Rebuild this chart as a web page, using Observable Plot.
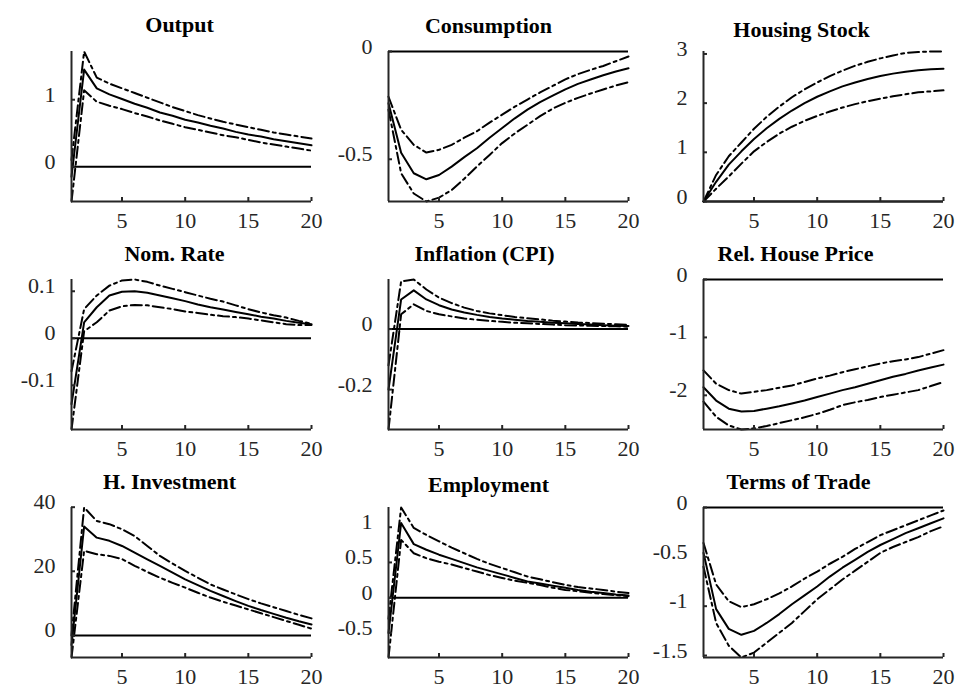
<!DOCTYPE html>
<html><head><meta charset="utf-8">
<script src="https://cdn.jsdelivr.net/npm/d3@7"></script>
<script src="https://cdn.jsdelivr.net/npm/@observablehq/plot@0.6"></script>
<style>
body{margin:0;background:#fff}
#wrap{position:relative;width:955px;height:689px;overflow:hidden;font-family:"Liberation Serif",serif}
#wrap svg{position:absolute}
</style>
</head><body><div id="wrap"></div>
<script>
const periods = [1,2,3,4,5,6,7,8,9,10,11,12,13,14,15,16,17,18,19,20];
const xTicks = [5,10,15,20];

const titles = ["Output","Consumption","Housing Stock","Nom. Rate","Inflation (CPI)","Rel. House Price","H. Investment","Employment","Terms of Trade"];

const outputMed = [-0.15,1.45,1.17,1.08,1.01,0.94,0.88,0.81,0.76,0.70,0.66,0.61,0.57,0.52,0.48,0.45,0.41,0.38,0.35,0.32];
const outputUp  = [0.10,1.72,1.33,1.24,1.17,1.10,1.03,0.96,0.89,0.83,0.77,0.72,0.67,0.63,0.59,0.55,0.51,0.48,0.45,0.42];
const outputLo  = [-0.52,1.14,0.97,0.91,0.86,0.80,0.75,0.69,0.64,0.59,0.55,0.51,0.47,0.44,0.40,0.36,0.33,0.30,0.27,0.24];

const consMed = [-0.24,-0.47,-0.565,-0.593,-0.573,-0.534,-0.49,-0.449,-0.40,-0.355,-0.31,-0.27,-0.235,-0.205,-0.176,-0.15,-0.13,-0.11,-0.093,-0.078];
const consUp  = [-0.21,-0.363,-0.433,-0.469,-0.456,-0.433,-0.40,-0.37,-0.33,-0.293,-0.256,-0.223,-0.19,-0.16,-0.129,-0.105,-0.085,-0.067,-0.045,-0.023];
const consLo  = [-0.27,-0.565,-0.659,-0.696,-0.678,-0.643,-0.59,-0.534,-0.48,-0.425,-0.38,-0.34,-0.30,-0.265,-0.238,-0.215,-0.195,-0.176,-0.158,-0.142];

const housMed = [0,0.40,0.75,1.02,1.27,1.49,1.68,1.85,2.00,2.13,2.24,2.34,2.42,2.49,2.55,2.60,2.64,2.67,2.69,2.70];
const housUp  = [0,0.54,0.92,1.20,1.48,1.72,1.93,2.12,2.28,2.42,2.55,2.66,2.76,2.84,2.91,2.97,3.02,3.04,3.05,3.05];
const housLo  = [0,0.26,0.51,0.77,1.02,1.21,1.38,1.52,1.64,1.74,1.83,1.91,1.98,2.04,2.09,2.14,2.18,2.22,2.24,2.26];

const rateMed = [-0.14,0.034,0.066,0.091,0.099,0.10,0.097,0.091,0.085,0.079,0.072,0.066,0.061,0.056,0.051,0.046,0.042,0.037,0.033,0.03];
const rateUp  = [-0.07,0.062,0.091,0.112,0.123,0.125,0.12,0.112,0.105,0.098,0.091,0.084,0.078,0.07,0.062,0.055,0.049,0.044,0.037,0.031];
const rateLo  = [-0.194,0.015,0.034,0.059,0.068,0.071,0.07,0.066,0.062,0.057,0.054,0.05,0.047,0.045,0.042,0.038,0.034,0.03,0.028,0.028];

const inflMed = [-0.2,0.098,0.128,0.098,0.079,0.065,0.055,0.047,0.04,0.035,0.031,0.027,0.024,0.021,0.019,0.017,0.015,0.013,0.011,0.01];
const inflUp  = [-0.12,0.158,0.164,0.131,0.104,0.086,0.071,0.06,0.052,0.046,0.04,0.036,0.032,0.028,0.025,0.022,0.02,0.018,0.016,0.014];
const inflLo  = [-0.332,0.049,0.082,0.06,0.049,0.042,0.035,0.031,0.027,0.024,0.021,0.019,0.017,0.015,0.013,0.012,0.011,0.01,0.009,0.008];

const priceMed = [-1.86,-2.09,-2.23,-2.28,-2.27,-2.23,-2.19,-2.14,-2.09,-2.03,-1.97,-1.91,-1.86,-1.80,-1.74,-1.68,-1.63,-1.57,-1.52,-1.47];
const priceUp  = [-1.57,-1.80,-1.91,-1.97,-1.94,-1.91,-1.87,-1.83,-1.77,-1.71,-1.66,-1.60,-1.55,-1.50,-1.45,-1.41,-1.38,-1.34,-1.28,-1.22];
const priceLo  = [-2.11,-2.37,-2.52,-2.59,-2.57,-2.53,-2.48,-2.43,-2.38,-2.32,-2.25,-2.17,-2.12,-2.08,-2.03,-1.99,-1.95,-1.91,-1.84,-1.77];

const invMed = [-3,34,30.5,29.5,27.9,25.8,23.7,21.7,19.6,17.5,15.7,13.9,12.3,10.7,9.2,7.9,6.7,5.5,4.4,3.4];
const invUp  = [0,39.9,35.7,34.7,33.1,31,27.9,24.8,22.4,20.1,18,15.9,14.3,12.8,11.3,10,8.8,7.6,6.4,5.3];
const invLo  = [-6.9,26.4,25.3,24.8,23.8,21.7,19.8,18,16.4,14.9,13.3,11.8,10.5,9.3,8.1,6.9,5.7,4.5,3.3,2.1];

const empMed = [-0.5,1.06,0.76,0.68,0.61,0.55,0.49,0.43,0.38,0.33,0.28,0.23,0.2,0.17,0.14,0.11,0.085,0.066,0.045,0.03];
const empUp  = [-0.3,1.28,0.99,0.89,0.80,0.71,0.63,0.55,0.48,0.42,0.36,0.30,0.26,0.22,0.18,0.15,0.13,0.11,0.085,0.066];
const empLo  = [-0.85,0.82,0.63,0.56,0.51,0.47,0.42,0.37,0.32,0.28,0.24,0.21,0.18,0.14,0.11,0.09,0.07,0.05,0.035,0.02];

const totMed = [-0.46,-1.03,-1.23,-1.29,-1.25,-1.17,-1.08,-0.98,-0.89,-0.80,-0.70,-0.61,-0.53,-0.45,-0.38,-0.32,-0.26,-0.21,-0.16,-0.11];
const totUp  = [-0.36,-0.78,-0.95,-1.01,-0.98,-0.93,-0.87,-0.80,-0.72,-0.65,-0.57,-0.50,-0.42,-0.35,-0.28,-0.23,-0.18,-0.13,-0.08,-0.03];
const totLo  = [-0.60,-1.17,-1.40,-1.52,-1.47,-1.37,-1.27,-1.17,-1.05,-0.93,-0.83,-0.73,-0.64,-0.55,-0.46,-0.40,-0.35,-0.30,-0.24,-0.19];

const yTickLists = [[0,1],[-0.5,0],[0,1,2,3],[-0.1,0,0.1],[-0.2,0],[-2,-1,0],[0,20,40],[-0.5,0,0.5,1],[-1.5,-1,-0.5,0]];

const series = [
  [outputMed,outputUp,outputLo],[consMed,consUp,consLo],[housMed,housUp,housLo],
  [rateMed,rateUp,rateLo],[inflMed,inflUp,inflLo],[priceMed,priceUp,priceLo],
  [invMed,invUp,invLo],[empMed,empUp,empLo],[totMed,totUp,totLo]
];

const colLeft = [0, 317, 632];
const rowTop = [-1, 227, 455];
const titleDx = [-12, -20, -22, -17, -24, -28, -22, -20, -25];
const titleDy = [-27, -26, -22, -26, -26, -26, -26, -23, -26];
const wrap = document.getElementById("wrap");
const axisColor = "#262626";
const dash = "11,4,3,4";

series.forEach(([med, up, lo], i) => {
  const rows = periods.map((p, j) => ({p, med: med[j], up: up[j], lo: lo[j]}));
  const ext = d3.extent([...med, ...up, ...lo, 0]);
  const chart = Plot.plot({
    width: 319, height: 230,
    marginLeft: 71, marginRight: 8, marginTop: 52, marginBottom: 28,
    style: {fontFamily: "'Liberation Serif', serif", fontSize: "22px", color: axisColor, background: "transparent", overflow: "visible"},
    x: {domain: [1, 20]},
    y: {domain: ext},
    marks: [
      Plot.ruleY([0], {stroke: "black", strokeWidth: 2}),
      Plot.line(rows, {x: "p", y: "up", stroke: "black", strokeWidth: 2, strokeDasharray: dash}),
      Plot.line(rows, {x: "p", y: "lo", stroke: "black", strokeWidth: 2, strokeDasharray: dash}),
      Plot.line(rows, {x: "p", y: "med", stroke: "black", strokeWidth: 2}),
      Plot.ruleY([ext[0]], {stroke: axisColor, strokeWidth: 2}),
      Plot.ruleX([1], {stroke: axisColor, strokeWidth: 2}),
      Plot.axisX(xTicks, {tickSize: -4, tickPadding: 15, strokeWidth: 2, label: null, fill: axisColor, stroke: axisColor}),
      Plot.axisY(yTickLists[i], {tickSize: -4, tickFormat: () => "", strokeWidth: 2, label: null, stroke: axisColor}),
      Plot.axisY(yTickLists[i], {tickSize: 0, tickPadding: 16, dy: -5, tickFormat: d => String(d), label: null, fill: axisColor}),
      Plot.text([titles[i]], {frameAnchor: "top", lineAnchor: "middle", dy: titleDy[i], dx: titleDx[i], fontWeight: "bold", fontSize: 22, fill: "black"})
    ]
  });
  chart.style.left = colLeft[i % 3] + "px";
  chart.style.top = rowTop[Math.floor(i / 3)] + "px";
  wrap.appendChild(chart);
});
</script>
</body></html>
